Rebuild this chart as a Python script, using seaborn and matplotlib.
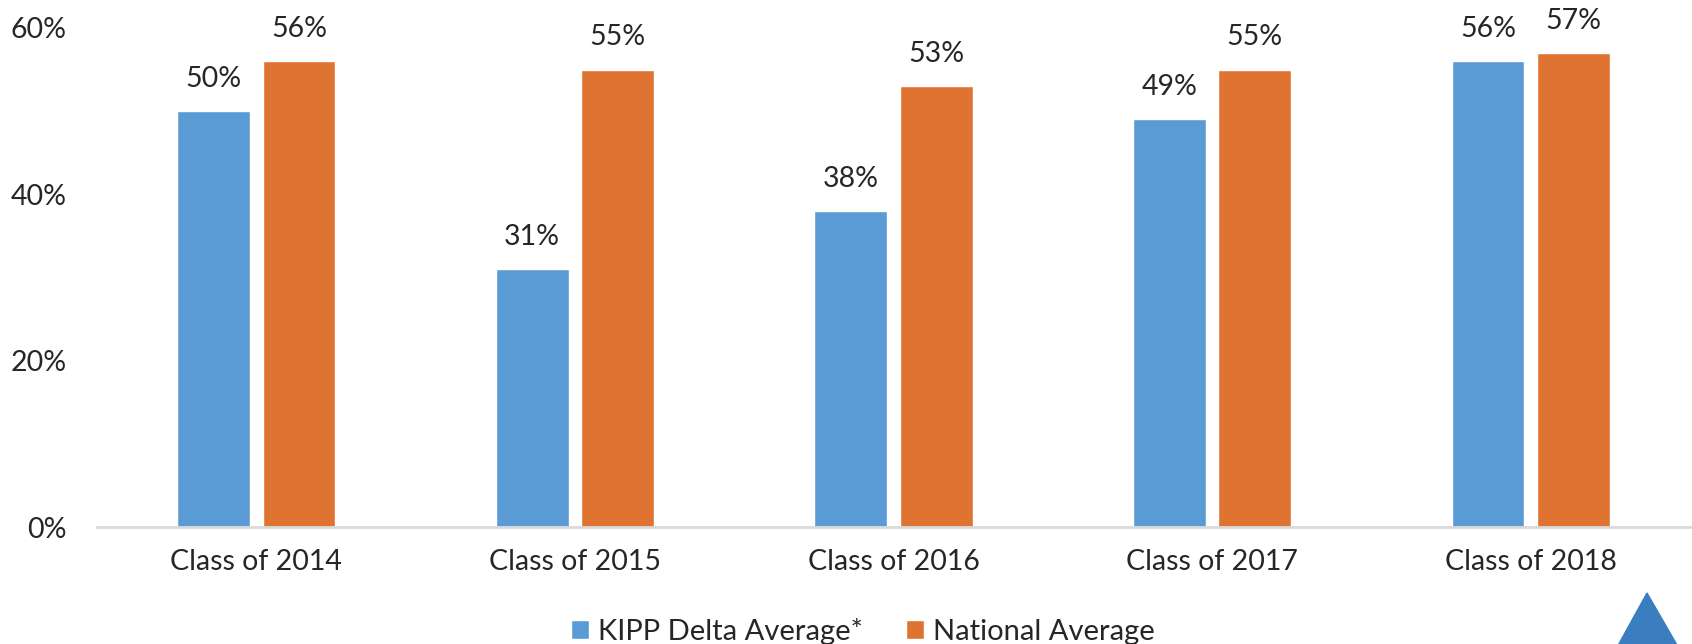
import numpy as np
import pandas as pd
import matplotlib.pyplot as plt
import seaborn as sns
from matplotlib.patches import Polygon

# data
classes = ["Class of 2014", "Class of 2015", "Class of 2016", "Class of 2017", "Class of 2018"]
kipp = [50, 31, 38, 49, 56]
national = [56, 55, 53, 55, 57]
series = ["KIPP Delta Average*", "National Average"]
colors = ["#5B9BD5", "#DF7331"]

df = pd.DataFrame({
    "cls": classes * 2,
    "value": [v / 100 for v in kipp + national],
    "series": [series[0]] * len(classes) + [series[1]] * len(classes),
})

sns.set_style("white")
plt.rcParams["font.family"] = ["Lato", "DejaVu Sans"]

fig = plt.figure(figsize=(16.92, 6.44), dpi=100)
ax = fig.add_axes([97 / 1692, 117 / 644, 1593 / 1692, 499 / 644])

sns.barplot(data=df, x="cls", y="value", hue="series", palette=colors,
            width=0.536, gap=0.146, saturation=1, ax=ax, legend=True)

for cont in ax.containers:
    ax.bar_label(cont, labels=[f"{b.get_height() * 100:.0f}%" for b in cont],
                 padding=14, fontsize=20.5)

ax.set_xlim(-0.5, 4.5)
ax.set_ylim(0, 0.6)
ax.set_yticks([0, 0.2, 0.4, 0.6])
ax.set_yticklabels(["0%", "20%", "40%", "60%"])
ax.tick_params(axis="y", length=0, pad=22, labelsize=20.5)
ax.tick_params(axis="x", length=0, pad=16, labelsize=20.5)
ax.set_xlabel("")
ax.set_ylabel("")

for s in ["top", "right", "left"]:
    ax.spines[s].set_visible(False)
ax.spines["bottom"].set_color("#D9D9D9")
ax.spines["bottom"].set_linewidth(2)
for lab in ax.get_yticklabels() + ax.get_xticklabels():
    lab.set_clip_on(False)

handles, labels = ax.get_legend_handles_labels()
ax.get_legend().remove()
fig.legend(handles, labels, loc="center", bbox_to_anchor=(0.510, 0.02), ncol=2,
           frameon=False, fontsize=21, handlelength=0.62, handleheight=0.62,
           handletextpad=0.3, columnspacing=1.5, borderpad=0)

# logo triangle in the corner
tri = Polygon([[1647 / 1692, 1 - 593 / 644], [1677 / 1692, 1 - 645 / 644],
               [1610 / 1692, 1 - 660 / 644]], closed=True, transform=fig.transFigure,
              color="#3A7EC0", clip_on=False)
fig.patches.append(tri)

fig.savefig("out.png", dpi=100)
